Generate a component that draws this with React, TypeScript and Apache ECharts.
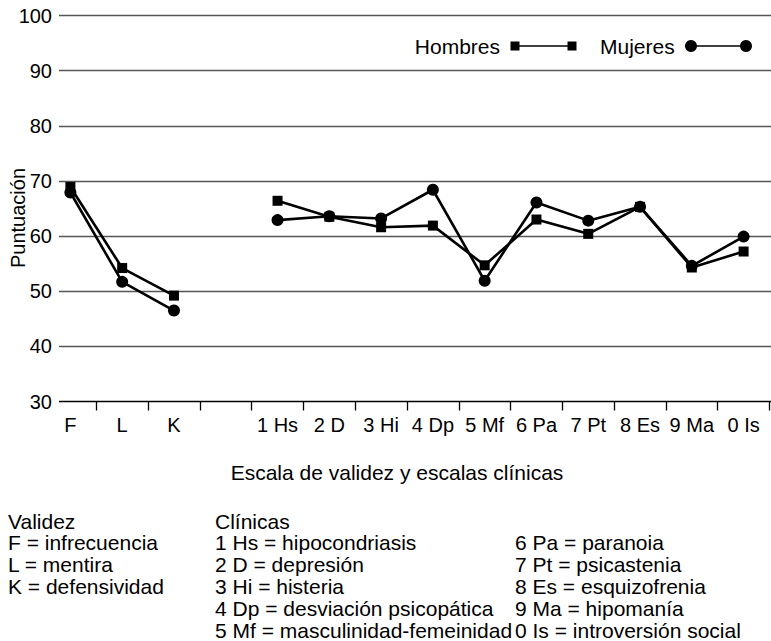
import React, { useEffect, useRef } from "react";
import * as echarts from "echarts";

const categories = ["F", "L", "K", "", "1 Hs", "2 D", "3 Hi", "4 Dp", "5 Mf", "6 Pa", "7 Pt", "8 Es", "9 Ma", "0 Is"];
const hombres = [68.9, 54.2, 49.2, null, 66.4, 63.5, 61.6, 61.9, 54.7, 63.0, 60.4, 65.3, 54.3, 57.2];
const mujeres = [67.9, 51.7, 46.5, null, 62.9, 63.6, 63.2, 68.4, 51.9, 66.1, 62.8, 65.3, 54.6, 59.9];
const yTicks = { min: 30, max: 100, interval: 10 };
const seriesNames = ["Hombres", "Mujeres"];
const xAxisTitle = "Escala de validez y escalas clínicas";
const yAxisTitle = "Puntuación";
const notesValidez = ["Validez", "F = infrecuencia", "L = mentira", "K = defensividad"];
const notesClinicas1 = ["Clínicas", "1 Hs = hipocondriasis", "2 D = depresión", "3 Hi = histeria", "4 Dp = desviación psicopática", "5 Mf = masculinidad-femeinidad"];
const notesClinicas2 = ["6 Pa = paranoia", "7 Pt = psicastenia", "8 Es = esquizofrenia", "9 Ma = hipomanía", "0 Is = introversión social"];

const FONT = "'Liberation Sans', Arial, Helvetica, sans-serif";

export default function App() {
  const ref = useRef<HTMLDivElement>(null);
  useEffect(() => {
    if (!ref.current) return;
    const chart = echarts.init(ref.current, null, { renderer: "svg" });
    const rowY0 = 521;
    const rowH = 21.8;
    const noteText = (arr: string[], x: number, startRow: number) =>
      arr.map((t, i) => ({
        type: "text",
        x,
        y: rowY0 + (startRow + i) * rowH,
        style: { text: t, font: `21px ${FONT}`, fill: "#000", textAlign: "left", textVerticalAlign: "middle" },
      }));
    const legendY = 46;
    const graphics: any[] = [
      { type: "text", x: 500, y: legendY, style: { text: seriesNames[0], font: `21px ${FONT}`, fill: "#000", textAlign: "right", textVerticalAlign: "middle" } },
      { type: "line", shape: { x1: 515, y1: legendY, x2: 572, y2: legendY }, style: { stroke: "#000", lineWidth: 1.5 } },
      { type: "rect", shape: { x: 510.5, y: legendY - 4.5, width: 9, height: 9 }, style: { fill: "#000" } },
      { type: "rect", shape: { x: 567.5, y: legendY - 4.5, width: 9, height: 9 }, style: { fill: "#000" } },
      { type: "text", x: 600, y: legendY, style: { text: seriesNames[1], font: `21px ${FONT}`, fill: "#000", textAlign: "left", textVerticalAlign: "middle" } },
      { type: "line", shape: { x1: 691, y1: legendY, x2: 746, y2: legendY }, style: { stroke: "#000", lineWidth: 1.5 } },
      { type: "circle", shape: { cx: 691, cy: legendY, r: 6 }, style: { fill: "#000" } },
      { type: "circle", shape: { cx: 746, cy: legendY, r: 6 }, style: { fill: "#000" } },
      { type: "text", x: 397, y: 472, style: { text: xAxisTitle, font: `21px ${FONT}`, fill: "#000", textAlign: "center", textVerticalAlign: "middle" } },
      { type: "text", x: 18, y: 218, rotation: Math.PI / 2, style: { text: yAxisTitle, font: `20px ${FONT}`, fill: "#000", textAlign: "center", textVerticalAlign: "middle" } },
      ...noteText(notesValidez, 8, 0),
      ...noteText(notesClinicas1, 215, 0),
      ...noteText(notesClinicas2, 515, 1),
    ];
    const gridLineColors = ["#000", "#555", "#555", "#555", "#555", "#555", "#555", "#555"];
    chart.setOption({
      animation: false,
      backgroundColor: "#fff",
      grid: [
        { left: 44.5, right: 1.5, top: 15.5, bottom: 239.5 },
        { left: 59, right: 0, top: 15.5, bottom: 239.5 },
      ],
      xAxis: [
        {
          type: "category",
          gridIndex: 0,
          data: categories,
          boundaryGap: true,
          axisLine: { show: false },
          axisTick: { show: true, length: 9, interval: (i: number) => i !== 0, lineStyle: { color: "#000", width: 1.3 } },
          axisLabel: { interval: 0, margin: 13, color: "#000", fontSize: 20, fontFamily: FONT },
          splitLine: { show: false },
        },
        { type: "value", gridIndex: 1, show: false },
      ],
      yAxis: [
        { type: "value", gridIndex: 0, min: yTicks.min, max: yTicks.max, interval: yTicks.interval, show: false, splitLine: { show: false } },
        {
          type: "value",
          gridIndex: 1,
          min: yTicks.min,
          max: yTicks.max,
          interval: yTicks.interval,
          axisLine: { show: false },
          axisTick: { show: false },
          axisLabel: { margin: 7, color: "#000", fontSize: 20, fontFamily: FONT },
          splitLine: { show: true, lineStyle: { color: gridLineColors, width: 1.3 } },
        },
      ],
      series: [
        {
          name: seriesNames[0],
          type: "line",
          xAxisIndex: 0,
          yAxisIndex: 0,
          data: hombres,
          connectNulls: false,
          symbol: "rect",
          symbolSize: 10,
          showAllSymbol: true,
          lineStyle: { color: "#000", width: 2.6 },
          itemStyle: { color: "#000" },
          z: 3,
        },
        {
          name: seriesNames[1],
          type: "line",
          xAxisIndex: 0,
          yAxisIndex: 0,
          data: mujeres,
          connectNulls: false,
          symbol: "circle",
          symbolSize: 12,
          showAllSymbol: true,
          lineStyle: { color: "#000", width: 2.6 },
          itemStyle: { color: "#000" },
          z: 3,
        },
      ],
      graphic: graphics,
    });
    return () => chart.dispose();
  }, []);
  return <div ref={ref} style={{ position: "fixed", left: 0, top: 0, width: 771, height: 641, background: "#fff" }} />;
}
